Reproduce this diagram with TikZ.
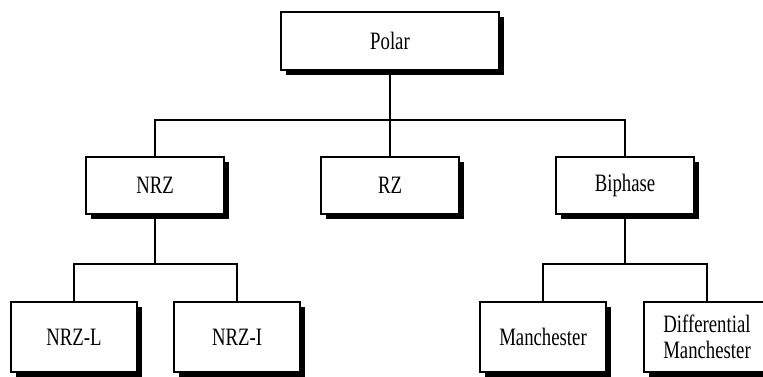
\documentclass[tikz,border=0pt]{standalone}
\usepackage{fontspec}
\setmainfont[FakeStretch=0.75]{Liberation Serif}
\usetikzlibrary{shadows}
\begin{document}
\begin{tikzpicture}[x=1pt,y=-1pt,
  box/.style={draw, line width=1.3pt, fill=white, align=center, inner sep=0pt,
    font=\fontsize{25}{25.5}\selectfont,
    drop shadow={shadow xshift=5pt, shadow yshift=-5pt, opacity=1, fill=black}},
  top/.style={box, minimum width=218pt, minimum height=58pt},
  mid/.style={box, minimum width=138pt, minimum height=57pt},
  leaf/.style={box, minimum width=126pt, minimum height=70pt},
  link/.style={line width=1.3pt}]
  \clip (0,0) rectangle (763,376);
  \useasboundingbox (0,0) rectangle (763,376);

  % root
  \node[top] (polar) at (390,41) {Polar};

  % second level
  \node[mid] (nrz) at (155,185.5) {NRZ};
  \node[mid] (rz) at (390,185.5) {RZ};
  \node[mid] (bi) at (625,185.5) {Biphase};

  % leaves
  \node[leaf] (nrzl) at (74,337) {NRZ-L};
  \node[leaf] (nrzi) at (237,337) {NRZ-I};
  \node[leaf] (man) at (543,337) {Manchester};
  \node[leaf] (dman) at (707,337) {Differential\\Manchester};

  % junction rails
  \coordinate (j1) at (390,120);
  \coordinate (j2) at (155,264);
  \coordinate (j3) at (625,264);

  % connectors
  \draw[link] (polar.south) -- (rz.north);
  \draw[link] (nrz.north) -- (nrz.north |- j1) -- (bi.north |- j1) -- (bi.north);
  \draw[link] (nrz.south) -- (j2);
  \draw[link] (nrzl.north) -- (nrzl.north |- j2) -- (nrzi.north |- j2) -- (nrzi.north);
  \draw[link] (bi.south) -- (j3);
  \draw[link] (man.north) -- (man.north |- j3) -- (dman.north |- j3) -- (dman.north);
\end{tikzpicture}
\end{document}
